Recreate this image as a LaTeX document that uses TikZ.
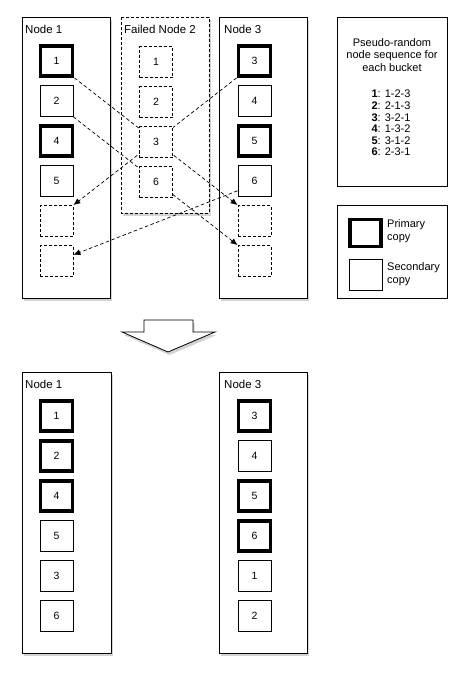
\documentclass[tikz,border=0pt]{standalone}
\usepackage{fontspec}
\setmainfont{Liberation Sans}
\usetikzlibrary{arrows.meta,shadows}

\begin{document}
\begin{tikzpicture}[x=1pt,y=-1pt]
                \tikzset{server/.style = {draw, fill=white, line width=0.8pt, drop shadow={shadow xshift=1.5pt, shadow yshift=-3pt, opacity=0.35}}}
                \tikzset{failed/.style = {server, dash pattern=on 3pt off 2pt}}
                \tikzset{legend/.style = {draw, line width=0.8pt}}
                \tikzset{bucket/.style = {shape=rectangle, draw, fill=white, line width=0.8pt, minimum width=33pt, minimum height=31pt, inner sep=0pt, font=\fontsize{10.5}{12}\selectfont}}
                \tikzset{primary/.style = {bucket, line width=3.8pt, minimum width=32pt, minimum height=30pt}}
                \tikzset{spare/.style = {bucket, dash pattern=on 3pt off 2pt}}
                \tikzset{title/.style = {anchor=base west, inner sep=0pt, font=\fontsize{11.5}{13}\selectfont}}
                \tikzset{note/.style = {inner sep=0pt, font=\fontsize{11}{12.5}\selectfont}}
                \tikzset{link/.style = {line width=0.7pt, dash pattern=on 3.5pt off 2.5pt, > = {Latex[length=7pt,width=6pt]}}}

                \useasboundingbox (0,0) rectangle (463,678);

                \draw[server] (22,17) rectangle (110,298);
                \draw[failed] (121,17) rectangle (209,213);
                \draw[server] (219,17) rectangle (307,298);
                \node[title] (n1title) at (25,33) {Node 1};
                \node[title] (f2title) at (124,33) {Failed Node 2};
                \node[title] (n3title) at (224,33) {Node 3};

                \node[primary] (n1r1) at (56.5,61) {1};
                \node[bucket] (n1r2) at (56.5,101) {2};
                \node[primary] (n1r3) at (56.5,141) {4};
                \node[bucket] (n1r4) at (56.5,181) {5};
                \node[spare] (n1r5) at (56.5,221) {};
                \node[spare] (n1r6) at (56.5,261) {};

                \node[primary] (n3r1) at (254.5,61) {3};
                \node[bucket] (n3r2) at (254.5,101) {4};
                \node[primary] (n3r3) at (254.5,141) {5};
                \node[bucket] (n3r4) at (254.5,181) {6};
                \node[spare] (n3r5) at (254.5,221) {};
                \node[spare] (n3r6) at (254.5,261) {};

                \draw[link,->] (n1r1.south east) -- (n3r5.north west);
                \draw[link,->] (n1r2.south east) -- (n3r6.north west);
                \draw[link,->] (n3r1.south west) -- (n1r5.north east);
                \draw[link,->] (n3r4.210) -- (n1r6.20);

                \node[spare] (f2r1) at (156,62) {1};
                \node[spare] (f2r2) at (156,102) {2};
                \node[spare] (f2r3) at (156,142) {3};
                \node[spare] (f2r4) at (156,182) {6};

                \draw[legend] (337,17) rectangle (447,186);
                \node[note, align=center] (seqtitle) at (392,55) {Pseudo-random\\node sequence for\\each bucket};
                \node[note, align=left, anchor=north, font=\fontsize{11}{11.6}\selectfont] (seqlist) at (391,90) {\textbf{1}: 1-2-3\\\textbf{2}: 2-1-3\\\textbf{3}: 3-2-1\\\textbf{4}: 1-3-2\\\textbf{5}: 3-1-2\\\textbf{6}: 2-3-1};

                \draw[legend] (337,205) rectangle (447,298);
                \node[primary, minimum width=31pt, minimum height=27pt] (keyprim) at (365.5,233) {};
                \node[bucket] (keysec) at (365.5,274.5) {};
                \node[note, align=left, anchor=west] (keyprimtext) at (387,231) {Primary\\copy};
                \node[note, align=left, anchor=west] (keysectext) at (387,274) {Secondary\\copy};

                \draw[server] (144,320) -- (193,320) -- (193,332) -- (215,332) -- (168,352) -- (122,332) -- (144,332) -- cycle;

                \draw[server] (22,372) rectangle (111,653);
                \draw[server] (219,372) rectangle (307,653);
                \node[title] (m1title) at (25,388) {Node 1};
                \node[title] (m3title) at (224,388) {Node 3};

                \node[primary] (m1r1) at (56.5,416) {1};
                \node[primary] (m1r2) at (56.5,456) {2};
                \node[primary] (m1r3) at (56.5,496) {4};
                \node[bucket] (m1r4) at (56.5,536) {5};
                \node[bucket] (m1r5) at (56.5,576) {3};
                \node[bucket] (m1r6) at (56.5,616) {6};

                \node[primary] (m3r1) at (254.5,416) {3};
                \node[bucket] (m3r2) at (254.5,456) {4};
                \node[primary] (m3r3) at (254.5,496) {5};
                \node[primary] (m3r4) at (254.5,536) {6};
                \node[bucket] (m3r5) at (254.5,576) {1};
                \node[bucket] (m3r6) at (254.5,616) {2};
\end{tikzpicture}
\end{document}
